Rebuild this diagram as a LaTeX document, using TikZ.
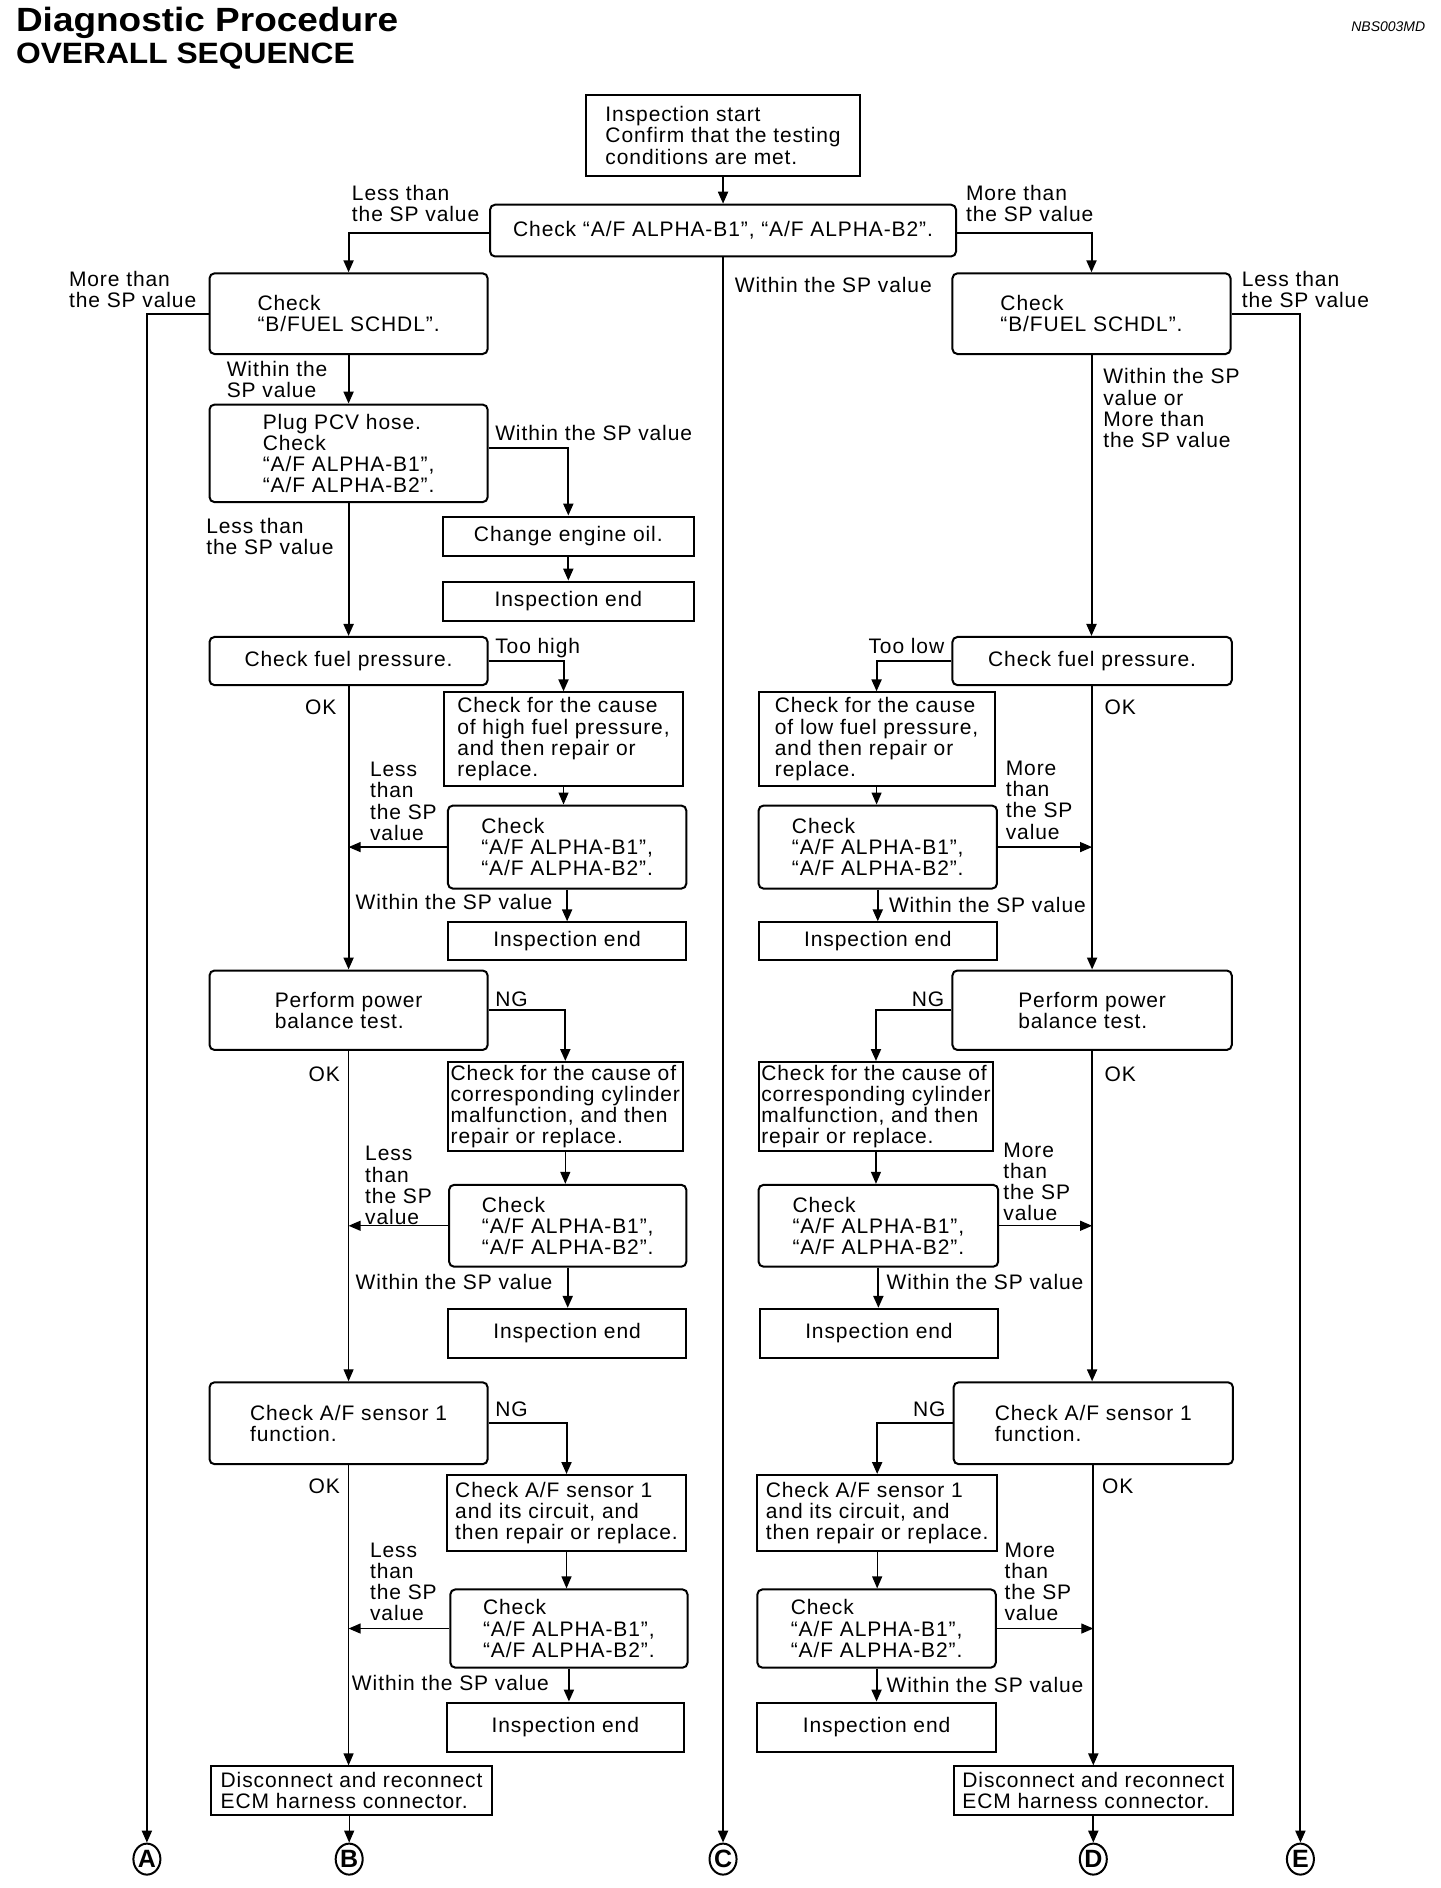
\documentclass[tikz,border=0pt]{standalone}
\usepackage{fontspec}
\setmainfont{Liberation Sans}[LetterSpace=4.3]
\newfontfamily\titlefont{Liberation Sans}[FakeStretch=1.1]
\newfontfamily\subfont{Liberation Sans}[FakeStretch=1.08]
\newfontfamily\codefont{Liberation Sans}
\usetikzlibrary{arrows.meta,shapes.geometric}
\newcommand\bodysize{\fontsize{10.5pt}{10.6pt}\selectfont}
\newcommand\bx[7]{\node[#2, minimum width={(#5-#3)*0.602pt}, minimum height={(#6-#4)*0.602pt}] (#1) at ({(#3+#5)/2},{(#4+#6)/2}) {#7};}
\newcommand\lb[4]{\node[lbl] (#1) at (#2,#3) {#4};}
\tikzset{
  rbox/.style={draw, line width=1pt, rounded corners=2.5pt, align=left, inner sep=1pt, font=\bodysize},
  sbox/.style={draw, line width=1pt, align=left, inner sep=1pt, font=\bodysize},
  lbl/.style={anchor=north west, inner sep=0pt, align=left, yshift=3.75pt, font=\bodysize},
  conn/.style={line width=1pt, -{Triangle[length=6pt,width=5pt]}},
  tconn/.style={line width=0.6pt, -{Triangle[length=6pt,width=5pt]}},
  circ/.style={draw, ellipse, line width=1pt, minimum width=13.5pt, minimum height=15.5pt, inner sep=0pt, font=\codefont\bfseries\fontsize{12.5pt}{12.5pt}\selectfont},
}
\begin{document}
\begin{tikzpicture}[x=0.602pt,y=-0.602pt]
\useasboundingbox (0,0) rectangle (1196,1568);
% titles
\node[anchor=base west, inner sep=0pt, font=\titlefont\bfseries\fontsize{16.8pt}{17pt}\selectfont] (title) at (13,26.3) {Diagnostic Procedure};
\node[anchor=base west, inner sep=0pt, font=\subfont\bfseries\fontsize{14.7pt}{15pt}\selectfont] (subtitle) at (13,53) {OVERALL SEQUENCE};
\node[anchor=base east, inner sep=0pt, font=\codefont\itshape\fontsize{7pt}{7pt}\selectfont] (code) at (1184,26) {NBS003MD};

% top
\bx{start}{sbox}{487}{79}{714}{146}{Inspection start\\Confirm that the testing\\conditions are met.}
\bx{chk}{rbox}{407}{170}{794}{213}{Check “A/F ALPHA-B1”, “A/F ALPHA-B2”.}
\bx{bfL}{rbox}{174}{227}{405}{294}{Check\\“B/FUEL SCHDL”.}
\bx{bfR}{rbox}{791}{227}{1022}{294}{Check\\“B/FUEL SCHDL”.}
\bx{pcv}{rbox}{174}{336}{405}{417}{Plug PCV hose.\\Check\\“A/F ALPHA-B1”,\\“A/F ALPHA-B2”.}
\bx{oil}{sbox}{368}{429}{576}{462}{Change engine oil.}
\bx{end0}{sbox}{368}{483}{576}{516}{Inspection end}

% left column
\bx{fpL}{rbox}{174}{529}{405}{569}{Check fuel pressure.}
\bx{hiC}{sbox}{369}{575}{567}{653}{Check for the cause\\of high fuel pressure,\\and then repair or\\replace.}
\bx{a1L}{rbox}{372}{669}{570}{738}{Check\\“A/F ALPHA-B1”,\\“A/F ALPHA-B2”.}
\bx{e1L}{sbox}{372}{766}{570}{797}{Inspection end}
\bx{ppL}{rbox}{174}{806}{405}{872}{Perform power\\balance test.}
\bx{cyL}{sbox}{372}{882}{567}{956}{Check for the cause of\\corresponding cylinder\\malfunction, and then\\repair or replace.}
\bx{a2L}{rbox}{373}{984}{570}{1052}{Check\\“A/F ALPHA-B1”,\\“A/F ALPHA-B2”.}
\bx{e2L}{sbox}{372}{1087}{570}{1128}{Inspection end}
\bx{snL}{rbox}{174}{1148}{405}{1216}{Check A/F sensor 1\\function.}
\bx{scL}{sbox}{371}{1225}{570}{1288}{Check A/F sensor 1\\and its circuit, and\\then repair or replace.}
\bx{a3L}{rbox}{374}{1320}{571}{1385}{Check\\“A/F ALPHA-B1”,\\“A/F ALPHA-B2”.}
\bx{e3L}{sbox}{371}{1414}{568}{1455}{Inspection end}
\bx{dcL}{sbox}{175}{1467}{409}{1507}{Disconnect and reconnect\\ECM harness connector.}

% right column
\bx{fpR}{rbox}{791}{529}{1023}{569}{Check fuel pressure.}
\bx{loC}{sbox}{630}{575}{826}{653}{Check for the cause\\of low fuel pressure,\\and then repair or\\replace.}
\bx{a1R}{rbox}{630}{669}{828}{738}{Check\\“A/F ALPHA-B1”,\\“A/F ALPHA-B2”.}
\bx{e1R}{sbox}{630}{766}{828}{797}{Inspection end}
\bx{ppR}{rbox}{791}{806}{1023}{872}{Perform power\\balance test.}
\bx{cyR}{sbox}{630}{882}{825}{956}{Check for the cause of\\corresponding cylinder\\malfunction, and then\\repair or replace.}
\bx{a2R}{rbox}{630}{984}{829}{1052}{Check\\“A/F ALPHA-B1”,\\“A/F ALPHA-B2”.}
\bx{e2R}{sbox}{631}{1087}{829}{1128}{Inspection end}
\bx{snR}{rbox}{792}{1148}{1024}{1216}{Check A/F sensor 1\\function.}
\bx{scR}{sbox}{629}{1225}{828}{1288}{Check A/F sensor 1\\and its circuit, and\\then repair or replace.}
\bx{a3R}{rbox}{629}{1320}{827}{1385}{Check\\“A/F ALPHA-B1”,\\“A/F ALPHA-B2”.}
\bx{e3R}{sbox}{629}{1414}{827}{1455}{Inspection end}
\bx{dcR}{sbox}{792}{1467}{1024}{1507}{Disconnect and reconnect\\ECM harness connector.}

% circled letters
\node[circ] (cA) at (122,1544) {A};
\node[circ] (cB) at (290,1544) {B};
\node[circ] (cC) at (600.5,1544) {C};
\node[circ] (cD) at (908,1544) {D};
\node[circ] (cE) at (1080,1544) {E};

% labels
\lb{l1}{292}{160}{Less than\\the SP value}
\lb{l2}{802}{160}{More than\\the SP value}
\lb{l3}{610}{236}{Within the SP value}
\lb{l4}{57}{231}{More than\\the SP value}
\lb{l5}{1031}{231}{Less than\\the SP value}
\lb{l6}{188}{306}{Within the\\SP value}
\lb{l7}{411}{359}{Within the SP value}
\lb{l8}{171}{436}{Less than\\the SP value}
\lb{l9}{916}{312}{Within the SP\\value or\\More than\\the SP value}
\lb{l10}{411}{536}{Too high}
\lb{l11}{721}{536}{Too low}
\lb{l12}{253}{587}{OK}
\lb{l13}{917}{587}{OK}
\lb{l14}{307}{639}{Less\\than\\the SP\\value}
\lb{l15}{835}{638}{More\\than\\the SP\\value}
\lb{l16}{295}{749}{Within the SP value}
\lb{l17}{738}{751}{Within the SP value}
\lb{l18}{411}{830}{NG}
\lb{l19}{757}{830}{NG}
\lb{l20}{256}{892}{OK}
\lb{l21}{917}{892}{OK}
\lb{l22}{303}{958}{Less\\than\\the SP\\value}
\lb{l23}{833}{955}{More\\than\\the SP\\value}
\lb{l24}{295}{1064}{Within the SP value}
\lb{l25}{736}{1064}{Within the SP value}
\lb{l26}{411}{1170}{NG}
\lb{l27}{758}{1170}{NG}
\lb{l28}{256}{1234}{OK}
\lb{l29}{915}{1234}{OK}
\lb{l30}{307}{1287}{Less\\than\\the SP\\value}
\lb{l31}{834}{1287}{More\\than\\the SP\\value}
\lb{l32}{292}{1397}{Within the SP value}
\lb{l33}{736}{1399}{Within the SP value}

% connectors: top
\draw[conn] (start.south) -- (chk.north);
\draw[conn] ([yshift=-1pt]chk.west) -| (bfL.north);
\draw[conn] ([yshift=-1pt]chk.east) -| (bfR.north);
\draw[conn] (chk.south) -- (cC.north);
\draw[conn] (bfL.west) -| (cA.north);
\draw[conn] (bfR.east) -| (cE.north);
\draw[conn] (bfL.south) -- (pcv.north);
\draw[conn] ([yshift=2.7pt]pcv.east) -| (oil.north);
\draw[conn] (oil.south) -- (end0.north);
\draw[conn] (pcv.south) -- (fpL.north);

% left column connectors
\draw[conn] (fpL.east) -| (hiC.north);
\draw[tconn] (hiC.south) -- (hiC.south |- a1L.north);
\draw[tconn] (a1L.west) -- (a1L.west -| fpL.south);
\draw[conn] (a1L.south) -- (a1L.south |- e1L.north);
\draw[conn] (fpL.south) -- (ppL.north);
\draw[conn] (ppL.east) -| (cyL.north);
\draw[tconn] (cyL.south) -- (cyL.south |- a2L.north);
\draw[tconn] (a2L.west) -- (a2L.west -| ppL.south);
\draw[conn] (a2L.south) -- (a2L.south |- e2L.north);
\draw[tconn] (ppL.south) -- (snL.north);
\draw[conn] (snL.east) -| (scL.north);
\draw[tconn] (scL.south) -- (scL.south |- a3L.north);
\draw[tconn] (a3L.west) -- (a3L.west -| snL.south);
\draw[conn] (a3L.south) -- (a3L.south |- e3L.north);
\draw[tconn] (snL.south) -- (snL.south |- dcL.north);
\draw[tconn] (dcL.south -| cB.north) -- (cB.north);

% right column connectors
\draw[conn] (bfR.south) -- (bfR.south |- fpR.north);
\draw[conn] (fpR.west) -| (loC.north);
\draw[tconn] (loC.south) -- (loC.south |- a1R.north);
\draw[tconn] (a1R.east) -- (a1R.east -| fpR.south);
\draw[conn] (a1R.south) -- (a1R.south |- e1R.north);
\draw[conn] (fpR.south) -- (ppR.north);
\draw[conn] (ppR.west) -| (cyR.north);
\draw[tconn] (cyR.south) -- (cyR.south |- a2R.north);
\draw[tconn] (a2R.east) -- (a2R.east -| ppR.south);
\draw[conn] (a2R.south) -- (a2R.south |- e2R.north);
\draw[conn] (ppR.south) -- (ppR.south |- snR.north);
\draw[conn] (snR.west) -| (scR.north);
\draw[tconn] (scR.south) -- (scR.south |- a3R.north);
\draw[tconn] (a3R.east) -- (a3R.east -| snR.south);
\draw[conn] (a3R.south) -- (a3R.south |- e3R.north);
\draw[conn] (snR.south) -- (snR.south |- dcR.north);
\draw[conn] (dcR.south) -- (dcR.south |- cD.north);
\end{tikzpicture}
\end{document}
